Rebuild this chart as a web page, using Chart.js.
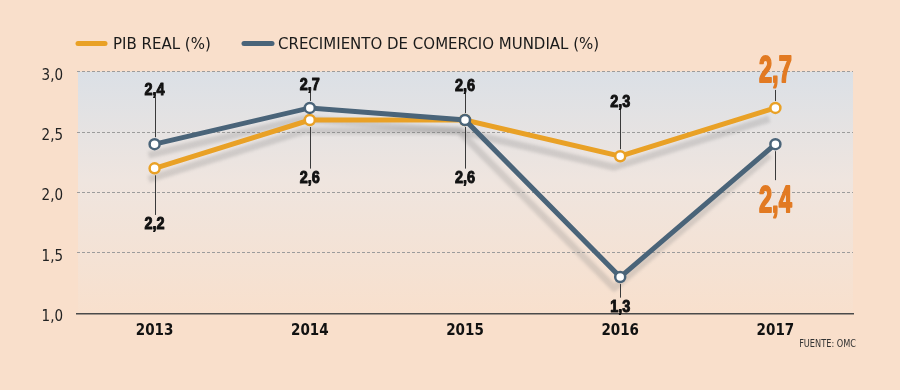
<!DOCTYPE html>
<html><head><meta charset="utf-8">
<script src="https://cdn.jsdelivr.net/npm/chart.js@4"></script>
<style>html,body{margin:0;padding:0;background:#f9dfcb;} #wrap{width:900px;height:390px;position:relative}</style>
</head><body><div id="wrap"><canvas id="c" width="900" height="390"></canvas></div>
<script>
const years = ['2013', '2014', '2015', '2016', '2017'];
const pibReal = [2.2, 2.6, 2.6, 2.3, 2.7];
const comercioMundial = [2.4, 2.7, 2.6, 1.3, 2.4];
const yTicks = [1.0, 1.5, 2.0, 2.5, 3.0];
const seriesNames = ['PIB REAL (%)', 'CRECIMIENTO DE COMERCIO MUNDIAL (%)'];
const sourceText = 'FUENTE: OMC';

const ORANGE = '#e9a126', BLUE = '#4a6479', BIG = '#e27a22';
const fmt = v => v.toFixed(1).replace('.', ',');
const condFont = '"DejaVu Sans Condensed", "Liberation Sans Narrow", "DejaVu Sans", sans-serif';

// label placement: offset of label baseline from the point (px)
const labelPlacement = [
  [{dy: 61}, {dy: 63}, {dy: 63}, {dy: -49}, {dy: -26, big: true}],
  [{dy: -49}, {dy: -18}, {dy: -29}, {dy: 35}, {dy: 68, big: true}]
];

const bgPlugin = {
  id: 'bg',
  beforeDraw(chart) {
    const {ctx, chartArea: a} = chart;
    ctx.save();
    ctx.fillStyle = '#f9dfcb';
    ctx.fillRect(0, 0, chart.width, chart.height);
    const g = ctx.createLinearGradient(0, a.top, 0, a.bottom);
    g.addColorStop(0, '#dbe0e6');
    g.addColorStop(0.45, '#efe5df');
    g.addColorStop(1, '#f8e0cd');
    ctx.fillStyle = g;
    ctx.fillRect(a.left + 1, a.top, a.right - a.left - 1, a.bottom - a.top);
    // legend
    const items = [[ORANGE, 78, 105, 113, seriesNames[0]], [BLUE, 244, 272, 278, seriesNames[1]]];
    ctx.lineCap = 'round';
    ctx.lineWidth = 5;
    ctx.font = '15px "DejaVu Sans", sans-serif';
    ctx.textBaseline = 'alphabetic';
    items.forEach(([c, x1, x2, tx, t]) => {
      ctx.strokeStyle = c;
      ctx.beginPath(); ctx.moveTo(x1, 43.5); ctx.lineTo(x2, 43.5); ctx.stroke();
      ctx.fillStyle = '#1a1a1a';
      ctx.fillText(t, tx, 49);
    });
    // source
    ctx.save();
    ctx.translate(856, 347);
    ctx.scale(0.82, 1);
    ctx.font = '10px "DejaVu Sans", sans-serif';
    ctx.textAlign = 'right';
    ctx.fillStyle = '#333';
    ctx.fillText(sourceText, 0, 0);
    ctx.restore();
    ctx.restore();
  },
  beforeDatasetsDraw(chart) {
    const ctx = chart.ctx;
    chart.data.datasets.forEach((ds, di) => {
      const meta = chart.getDatasetMeta(di);
      ctx.save();
      ctx.filter = 'blur(1.5px)';
      ctx.strokeStyle = 'rgba(120,120,120,0.24)';
      ctx.lineWidth = 7;
      ctx.lineJoin = 'round';
      ctx.beginPath();
      meta.data.forEach((p, k) => {
        const x = p.x - 6, y = p.y + 11;
        k ? ctx.lineTo(x, y) : ctx.moveTo(x, y);
      });
      ctx.stroke();
      ctx.restore();
    });
  },
  afterDatasetsDraw(chart) {
    const ctx = chart.ctx;
    chart.data.datasets.forEach((ds, di) => {
      const meta = chart.getDatasetMeta(di);
      meta.data.forEach((p, k) => {
        const spec = labelPlacement[di][k];
        const big = !!spec.big;
        const size = big ? 37 : 17;
        const capH = size * 0.73;
        const base = p.y + spec.dy;
        const up = spec.dy < 0;
        ctx.save();
        ctx.strokeStyle = '#3a3a3a';
        ctx.lineWidth = 1;
        ctx.beginPath();
        if (up) {
          ctx.moveTo(Math.round(p.x) + 0.5, base + (big ? 8 : 2));
          ctx.lineTo(Math.round(p.x) + 0.5, p.y - 7);
        } else {
          ctx.moveTo(Math.round(p.x) + 0.5, p.y + 7);
          ctx.lineTo(Math.round(p.x) + 0.5, base - capH - (big ? 5 : 2));
        }
        ctx.stroke();
        ctx.translate(p.x, base);
        ctx.scale(big ? 0.64 : 0.85, 1);
        ctx.font = 'bold ' + size + 'px "Liberation Sans", Arial, sans-serif';
        ctx.textAlign = 'center';
        ctx.textBaseline = 'alphabetic';
        const col = big ? BIG : '#111';
        ctx.fillStyle = col;
        ctx.strokeStyle = col;
        ctx.lineJoin = 'round';
        ctx.lineWidth = big ? 1.8 : 1.0;
        ctx.strokeText(fmt(ds.data[k]), 0, 0);
        ctx.fillText(fmt(ds.data[k]), 0, 0);
        ctx.restore();
      });
    });
  }
};

new Chart(document.getElementById('c'), {
  type: 'line',
  data: {
    labels: years,
    datasets: [
      {label: seriesNames[0], data: pibReal, borderColor: ORANGE, order: 2},
      {label: seriesNames[1], data: comercioMundial, borderColor: BLUE, order: 1}
    ].map(d => Object.assign(d, {
      borderWidth: 5, tension: 0, pointRadius: 5, pointHoverRadius: 5,
      pointBorderWidth: 2.5, pointBackgroundColor: '#ffffff', pointBorderColor: d.borderColor,
      fill: false
    }))
  },
  options: {
    responsive: false,
    animation: false,
    devicePixelRatio: 1,
    layout: {padding: {left: 0, right: 47, top: 71.7, bottom: 0}},
    plugins: {legend: {display: false}, tooltip: {enabled: false}},
    scales: {
      x: {
        offset: true,
        grid: {display: false, drawTicks: false},
        border: {display: true, color: '#4a4a4a', width: 1.5},
        ticks: {padding: 9, color: '#111', font: {family: condFont, size: 15, weight: 'bold'}},
        afterFit(s) { s.height = 390 - 313.3; }
      },
      y: {
        min: 1, max: 3,
        afterBuildTicks(s) { s.ticks = yTicks.map(v => ({value: v})); },
        grid: {drawTicks: false, color: c => (c.tick && c.tick.value === 1) ? 'rgba(0,0,0,0)' : '#9c9c9c', lineWidth: 1},
        border: {display: false, dash: [3, 2]},
        ticks: {padding: 14, labelOffset: 4, color: '#222', font: {family: condFont, size: 15}, callback: v => fmt(v)},
        afterFit(s) { s.width = 77; }
      }
    }
  },
  plugins: [bgPlugin]
});
</script>
</body></html>
